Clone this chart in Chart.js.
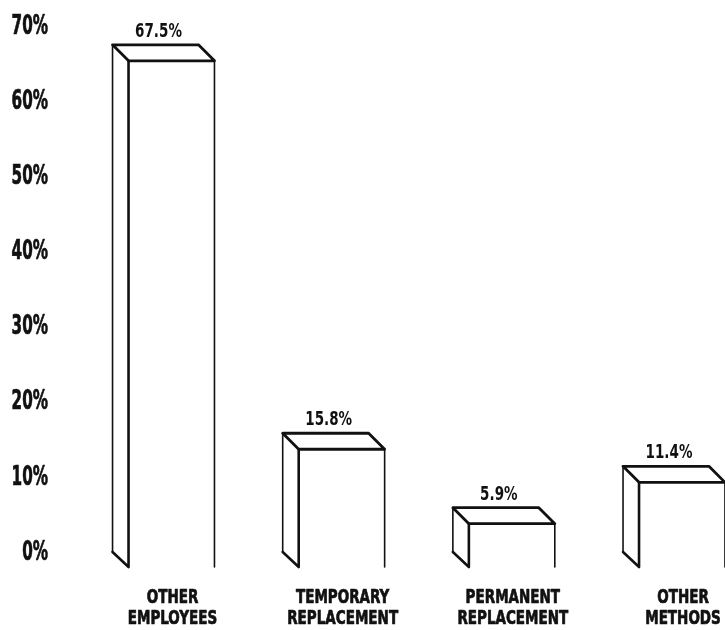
<!DOCTYPE html>
<html><head><meta charset="utf-8">
<script src="https://cdn.jsdelivr.net/npm/chart.js@4.4.0/dist/chart.umd.min.js"></script>
<style>html,body{margin:0;padding:0;background:#fff}canvas{display:block}</style>
</head><body>
<canvas id="c" width="725" height="630"></canvas>
<script>
const categories = [["OTHER","EMPLOYEES"],["TEMPORARY","REPLACEMENT"],["PERMANENT","REPLACEMENT"],["OTHER","METHODS"]];
const values = [67.5, 15.8, 5.9, 11.4];
const yTicks = [0,10,20,30,40,50,60,70];

const FONT = "'Liberation Sans Narrow', 'DejaVu Sans Condensed', 'Liberation Sans', sans-serif";
const DEPTH = 16;
const INK = '#111';

function squeezedText(ctx, text, x, y, sx, align, baseline, font, heavy){
  ctx.save();
  ctx.font = font; ctx.fillStyle = INK; ctx.strokeStyle = INK; ctx.lineWidth = 0.7; ctx.lineJoin = 'round';
  ctx.textAlign = align; ctx.textBaseline = baseline;
  ctx.translate(x, y); ctx.scale(sx, 1);
  ctx.fillText(text, 0, 0);
  if (heavy) ctx.strokeText(text, 0, 0);
  ctx.restore();
}

const box3d = {
  id:'box3d',
  afterDatasetsDraw(chart){
    const ctx = chart.ctx;
    const meta = chart.getDatasetMeta(0);
    ctx.save();
    meta.data.forEach((bar,i)=>{
      const {x,y,base,width} = bar.getProps(['x','y','base','width'], true);
      const d = DEPTH;
      const xl = x - width/2, xr = x + width/2;
      ctx.strokeStyle = INK; ctx.lineJoin='round'; ctx.lineCap='round';
      ctx.lineWidth = 2.8;
      ctx.beginPath();
      ctx.moveTo(xl-d, y); ctx.lineTo(xr-d, y); ctx.lineTo(xr, y+d); ctx.lineTo(xl, y+d); ctx.closePath();
      ctx.stroke();
      ctx.lineWidth = 1.6;
      ctx.beginPath(); ctx.moveTo(xl-d, y); ctx.lineTo(xl-d, base); ctx.stroke();
      ctx.lineWidth = 2.6;
      ctx.beginPath(); ctx.moveTo(xl-d, base); ctx.lineTo(xl, base+d-1); ctx.lineTo(xl, y+d); ctx.stroke();
      ctx.lineWidth = 1.6;
      ctx.beginPath(); ctx.moveTo(xr, y+d); ctx.lineTo(xr, base+d-1); ctx.stroke();
      squeezedText(ctx, values[i].toFixed(1)+'%', x - d + 3, y - 8, 0.75, 'center', 'alphabetic', 'bold 20px '+FONT, false);
    });
    ctx.restore();
  },
  afterDraw(chart){
    const ctx = chart.ctx;
    const ys = chart.scales.y, xs = chart.scales.x;
    yTicks.forEach(v=>{
      squeezedText(ctx, v+'%', 48, ys.getPixelForValue(v)+1, 0.65, 'right', 'middle', 'bold 26px '+FONT, true);
    });
    categories.forEach((lines,i)=>{
      const px = xs.getPixelForValue(i) + 1;
      lines.forEach((t,j)=>{
        squeezedText(ctx, t, px, chart.chartArea.bottom + 46.5 + j*21, 0.79, 'center', 'middle', 'bold 19px '+FONT, true);
      });
    });
  }
};

new Chart(document.getElementById('c'), {
  type:'bar',
  data:{ labels: categories, datasets:[{ data: values, backgroundColor:'rgba(0,0,0,0)', borderWidth:0, categoryPercentage:1, barPercentage:0.505 }]},
  plugins:[box3d],
  options:{
    responsive:false, animation:false, devicePixelRatio:1,
    layout:{padding:{top:26,right:43,left:0,bottom:0}},
    plugins:{legend:{display:false}, tooltip:{enabled:false}},
    scales:{
      x:{ type:'category', offset:false, grid:{display:false}, border:{display:false},
          ticks:{display:false},
          afterFit(s){ s.height = 78; } },
      y:{ min:0, max:70, grid:{display:false}, border:{display:false},
          afterBuildTicks(s){ s.ticks = yTicks.map(v=>({value:v})); },
          ticks:{display:false},
          afterFit(s){ s.width = 171.5; } }
    }
  }
});
</script>
</body></html>
